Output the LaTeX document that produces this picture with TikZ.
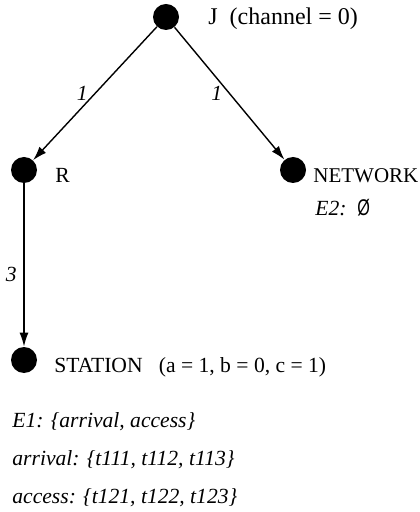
\documentclass[tikz,border=0pt]{standalone}
\usepackage{fontspec}
\setmainfont{Liberation Serif}
\newfontfamily\symfont{Liberation Sans}
\usetikzlibrary{arrows.meta}

\tikzset{
  dot/.style={circle, fill=black, draw=none, inner sep=0pt, minimum size=13pt},
  arr/.style={line width=0.7pt, -{Latex[length=7pt,width=4.5pt]}},
  txt/.style={anchor=base west, inner sep=0pt, font=\fontsize{10.8}{13}\selectfont},
  itxt/.style={txt, font=\fontsize{10.8}{13}\selectfont\itshape},
  wt/.style={font=\fontsize{10.8}{13}\selectfont\itshape}
}

\begin{document}
\begin{tikzpicture}[x=0.5pt, y=-0.5pt]
  \useasboundingbox (0,0) rectangle (419,512);
  % states
  \node[dot] (J) at (166,17) {};
  \node[dot] (R) at (24,170) {};
  \node[dot] (NET) at (293,170) {};
  \node[dot] (STA) at (24,360) {};
  % names
  \node[txt, font=\fontsize{12}{14}\selectfont] (Jlbl) at (208,25) {J\ \ (channel = 0)};
  \node[txt] (Rlbl) at (55,183) {R};
  \node[txt, font=\fontsize{10.5}{13}\selectfont] (NETlbl) at (313,183) {NETWORK};
  \node[itxt] (E2) at (315,216) {E2:\ \ {\symfont\upshape\scalebox{0.75}[1.05]{Ø}}};
  \node[txt] (STAlbl) at (54,372) {STATION\ \ \ (a = 1, b = 0, c = 1)};
  % event sets
  \node[itxt] (E1) at (12,427) {E1: \{arrival, access\}};
  \node[itxt] (arrival) at (12,465) {arrival: \{t111, t112, t113\}};
  \node[itxt] (access) at (12,503) {access: \{t121, t122, t123\}};
  % transitions
  \draw[arr] (J) -- node[wt, midway, left] {1} (R);
  \draw[arr] (J) -- node[wt, midway, left] {1} (NET);
  \draw[arr] (R) -- node[wt, pos=.56, left] {3} (STA);
\end{tikzpicture}
\end{document}
